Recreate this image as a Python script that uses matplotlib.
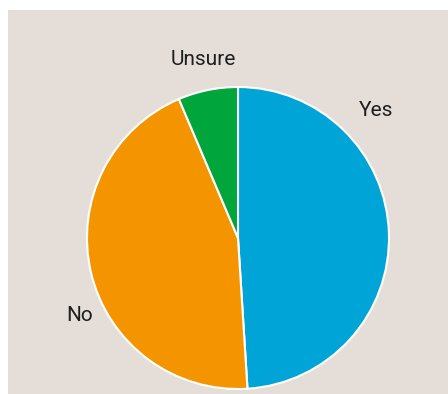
import matplotlib.pyplot as plt
from matplotlib.patches import Rectangle

labels = ['Yes', 'No', 'Unsure']
shares = [49, 44.6, 6.4]
colors = ['#00a4d6', '#f49500', '#00a53b']

# label baseline anchors in pixels (x centre, y baseline from top)
label_px = {'Yes': (376, 116), 'No': (80, 321), 'Unsure': (203, 65)}

W, H = 448, 394
fig = plt.figure(figsize=(W / 100, H / 100), dpi=100)
fig.patch.set_facecolor('white')
fig.patches.append(Rectangle((8 / W, 0), 1 - 8 / W, 1 - 10 / H,
                             transform=fig.transFigure, facecolor='#e5ded8',
                             edgecolor='none', zorder=-10))

ax = fig.add_axes([0, 0, 1, 1])
ax.patch.set_visible(False)
ax.pie(shares, colors=colors, startangle=90, counterclock=False,
       center=(238, H - 238), radius=151,
       wedgeprops=dict(edgecolor='white', linewidth=1.5))
ax.set_xlim(0, W)
ax.set_ylim(0, H)
ax.set_aspect('equal')
ax.axis('off')

narrow = ['Liberation Sans Narrow', 'DejaVu Sans Condensed', 'Roboto']
for name in labels:
    x, y = label_px[name]
    ax.text(x, H - y, name, ha='center', va='baseline', fontsize=15,
            color='#1e1e1e', family=narrow)

fig.savefig('out.png', dpi=100)
